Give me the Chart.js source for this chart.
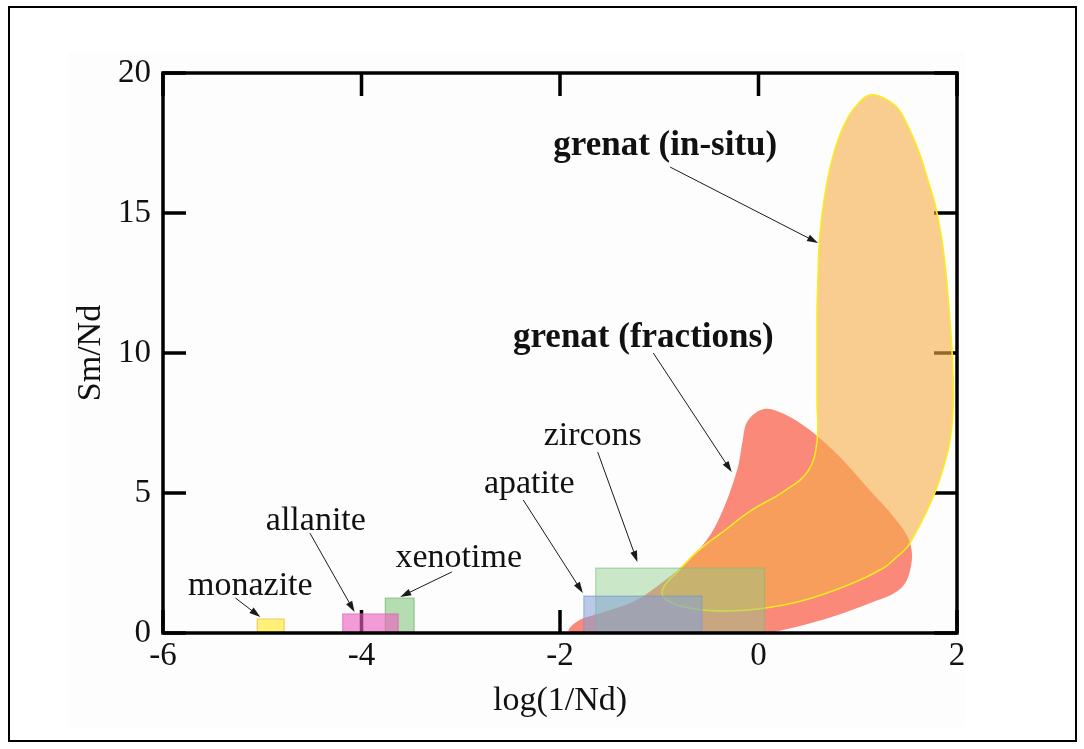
<!DOCTYPE html>
<html><head><meta charset="utf-8">
<script src="https://cdn.jsdelivr.net/npm/chart.js@4.4.1/dist/chart.umd.min.js"></script>
<style>html,body{margin:0;padding:0;background:#fff;}</style>
</head><body>
<canvas id="c" width="1084" height="749"></canvas>
<script>
// ---- axes ----
const xTickValues = [-6, -4, -2, 0, 2];
const yTickValues = [0, 5, 10, 15, 20];
const xTitle = 'log(1/Nd)';
const yTitle = 'Sm/Nd';

// ---- grenat (fractions) envelope ----
const grenatFracX = [0.055, -0.78, -1.59, -1.91, -1.82, -1.59, -1.25, -0.95, -0.68, -0.48, -0.35, -0.25, -0.20, -0.16, -0.11, 0.055, 0.26, 0.53, 0.83, 1.10, 1.37, 1.52, 1.54, 1.44, 1.10, 0.60, 0.055];
const grenatFracY = [-0.05, -0.1, -0.1, 0.06, 0.43, 0.71, 1.14, 1.86, 2.68, 3.54, 4.46, 5.43, 6.04, 6.86, 7.57, 8.0, 7.82, 7.21, 6.25, 5.18, 4.11, 3.29, 2.46, 1.61, 1.04, 0.43, -0.05];

// ---- grenat (in-situ) envelope ----
const grenatInSituX = [0.59, 0.60, 0.61, 0.64, 0.68, 0.74, 0.82, 0.91, 1.01, 1.12, 1.26, 1.40, 1.50, 1.61, 1.70, 1.78, 1.84, 1.88, 1.91, 1.94, 1.96, 1.96, 1.93, 1.87, 1.78, 1.64, 1.57, 1.50, 1.39, 1.26, 0.93, 0.43, 0.0, -0.41, -0.75, -0.95, -0.96, -0.81, -0.61, -0.35, -0.08, 0.26, 0.50, 0.59, 0.59, 0.59, 0.59];
const grenatInSituY = [11.54, 12.79, 13.79, 14.93, 15.89, 16.89, 17.79, 18.46, 18.93, 19.21, 19.11, 18.75, 18.14, 17.25, 16.25, 15.29, 14.21, 13.14, 12.0, 10.64, 9.21, 7.96, 6.89, 6.0, 5.04, 3.96, 3.5, 3.07, 2.71, 2.32, 1.75, 1.14, 0.86, 0.79, 0.93, 1.25, 1.61, 2.21, 2.93, 3.64, 4.36, 5.07, 5.79, 6.86, 8.32, 10.11, 11.54];

// ---- mineral boxes: [xMin, xMax], yMax (boxes start at 0) ----
const boxNames = ['zircons', 'apatite', 'xenotime', 'allanite', 'monazite'];
const boxXMin  = [-1.64, -1.76, -3.76, -4.19, -5.05];
const boxXMax  = [0.06, -0.57, -3.47, -3.63, -4.78];
const boxYMax  = [2.32, 1.32, 1.25, 0.68, 0.5];

// ---- annotations ----
const annoText   = ['grenat (in-situ)', 'grenat (fractions)', 'zircons', 'apatite', 'allanite', 'xenotime', 'monazite'];
const annoBold   = [true, true, false, false, false, false, false];
const annoX      = [-0.94, -1.16, -1.67, -2.31, -4.46, -3.02, -5.12];
const annoY      = [17.07, 10.21, 6.71, 5.0, 3.68, 2.36, 1.36];
const arrowX1    = [-0.89, -1.06, -1.62, -2.37, -4.52, -3.09, -5.27];
const arrowY1    = [16.64, 10.0, 6.46, 4.75, 3.57, 2.18, 1.25];
const arrowX2    = [0.60, -0.27, -1.22, -1.77, -4.07, -3.61, -5.02];
const arrowY2    = [13.93, 5.75, 2.54, 1.43, 0.75, 1.29, 0.57];

const pts = (xs, ys) => xs.map((x, i) => ({x: x, y: ys[i]}));
const rect = i => [
  {x: boxXMin[i], y: 0}, {x: boxXMin[i], y: boxYMax[i]},
  {x: boxXMax[i], y: boxYMax[i]}, {x: boxXMax[i], y: 0}, {x: boxXMin[i], y: 0}
];

const boxFill   = ['rgba(140,205,135,0.45)', 'rgba(130,160,215,0.55)', 'rgba(120,195,115,0.55)', 'rgba(238,95,190,0.62)', 'rgba(255,238,80,0.78)'];
const boxBorder = ['rgba(120,185,115,0.5)', 'rgba(120,150,205,0.6)', 'rgba(100,175,100,0.6)', 'rgba(225,95,180,0.6)', 'rgba(245,190,80,0.85)'];
const boxOrder  = [5, 4, 3, 2, 1];

const datasets = [
  {label: 'grenat (fractions)', data: pts(grenatFracX, grenatFracY), fill: 'shape',
   backgroundColor: 'rgb(250,137,122)', borderWidth: 0, borderColor: 'rgba(0,0,0,0)',
   tension: 0.35, pointRadius: 0, order: 20},
  {label: 'grenat (in-situ)', data: pts(grenatInSituX, grenatInSituY), fill: 'shape',
   backgroundColor: 'rgba(247,172,72,0.6)', borderColor: 'rgb(250,236,30)', borderWidth: 1.6,
   tension: 0.4, pointRadius: 0, order: 19}
];
boxNames.forEach((n, i) => datasets.push({
  label: n, data: rect(i), fill: 'shape', backgroundColor: boxFill[i],
  borderColor: boxBorder[i], borderWidth: 1.2, tension: 0, pointRadius: 0, order: boxOrder[i]
}));

const FONT = "'Liberation Serif', 'Times New Roman', serif";

const decor = {
  id: 'decor',
  beforeDraw(chart) {
    const {ctx} = chart;
    ctx.save();
    ctx.fillStyle = '#ffffff';
    ctx.fillRect(0, 0, chart.width, chart.height);
    ctx.fillStyle = '#fdfdfd';
    ctx.fillRect(68, 52, 897, 675);
    ctx.strokeStyle = '#000';
    ctx.lineWidth = 2;
    ctx.strokeRect(9, 7, 1067, 734);
    ctx.restore();
  },
  beforeDatasetsDraw(chart) {
    const {ctx, chartArea: a, scales: {x, y}} = chart;
    const L = 23;
    ctx.save();
    ctx.strokeStyle = '#000';
    ctx.lineWidth = 3.5;
    ctx.beginPath();
    x.ticks.forEach(t => {
      const px = x.getPixelForValue(t.value);
      ctx.moveTo(px, a.bottom); ctx.lineTo(px, a.bottom - L);
      ctx.moveTo(px, a.top); ctx.lineTo(px, a.top + L);
    });
    y.ticks.forEach(t => {
      const py = y.getPixelForValue(t.value);
      ctx.moveTo(a.left, py); ctx.lineTo(a.left + L, py);
      ctx.moveTo(a.right, py); ctx.lineTo(a.right - L, py);
    });
    ctx.stroke();
    ctx.restore();
  },
  afterDatasetsDraw(chart) {
    const {ctx, chartArea: a, scales: {x, y}} = chart;
    ctx.save();
    ctx.strokeStyle = '#000';
    ctx.lineWidth = 3.5;
    ctx.strokeRect(a.left, a.top, a.right - a.left, a.bottom - a.top);
    // arrows
    ctx.strokeStyle = '#1a1a1a';
    ctx.fillStyle = '#1a1a1a';
    ctx.lineWidth = 1;
    annoText.forEach((t, i) => {
      const x1 = x.getPixelForValue(arrowX1[i]), y1 = y.getPixelForValue(arrowY1[i]);
      const x2 = x.getPixelForValue(arrowX2[i]), y2 = y.getPixelForValue(arrowY2[i]);
      const ang = Math.atan2(y2 - y1, x2 - x1);
      const HL = 11, HW = 3.5;
      ctx.beginPath(); ctx.moveTo(x1, y1);
      ctx.lineTo(x2 - HL * 0.6 * Math.cos(ang), y2 - HL * 0.6 * Math.sin(ang)); ctx.stroke();
      ctx.beginPath();
      ctx.moveTo(x2, y2);
      ctx.lineTo(x2 - HL * Math.cos(ang) + HW * Math.sin(ang), y2 - HL * Math.sin(ang) - HW * Math.cos(ang));
      ctx.lineTo(x2 - HL * Math.cos(ang) - HW * Math.sin(ang), y2 - HL * Math.sin(ang) + HW * Math.cos(ang));
      ctx.closePath(); ctx.fill();
    });
    // labels
    ctx.fillStyle = '#111';
    ctx.textAlign = 'center';
    ctx.textBaseline = 'alphabetic';
    annoText.forEach((t, i) => {
      ctx.font = (annoBold[i] ? 'bold 35px ' : '34px ') + FONT;
      ctx.fillText(t, x.getPixelForValue(annoX[i]), y.getPixelForValue(annoY[i]));
    });
    ctx.restore();
  }
};

new Chart(document.getElementById('c'), {
  type: 'line',
  data: {datasets: datasets},
  options: {
    responsive: false,
    animation: false,
    events: [],
    layout: {padding: {left: 0, right: 127, top: 73, bottom: 0}},
    plugins: {legend: {display: false}, tooltip: {enabled: false}, filler: {propagate: false}},
    scales: {
      x: {
        type: 'linear', min: -6, max: 2,
        afterBuildTicks: s => { s.ticks = xTickValues.map(v => ({value: v})); },
        afterFit: s => { s.height = 116; },
        grid: {display: false, drawTicks: false},
        border: {display: false},
        ticks: {color: '#111', padding: 4, font: {family: FONT, size: 33}, maxRotation: 0, autoSkip: false},
        title: {display: true, text: xTitle, color: '#111', font: {family: FONT, size: 34}, padding: {top: 0, bottom: 28}}
      },
      y: {
        type: 'linear', min: 0, max: 20,
        afterBuildTicks: s => { s.ticks = yTickValues.map(v => ({value: v})); },
        afterFit: s => { s.width = 163; },
        grid: {display: false, drawTicks: false},
        border: {display: false},
        ticks: {color: '#111', padding: 12, font: {family: FONT, size: 33}, autoSkip: false},
        title: {display: true, text: yTitle, color: '#111', font: {family: FONT, size: 34}, padding: {top: 71, bottom: 0}}
      }
    }
  },
  plugins: [decor]
});
</script>
</body></html>
